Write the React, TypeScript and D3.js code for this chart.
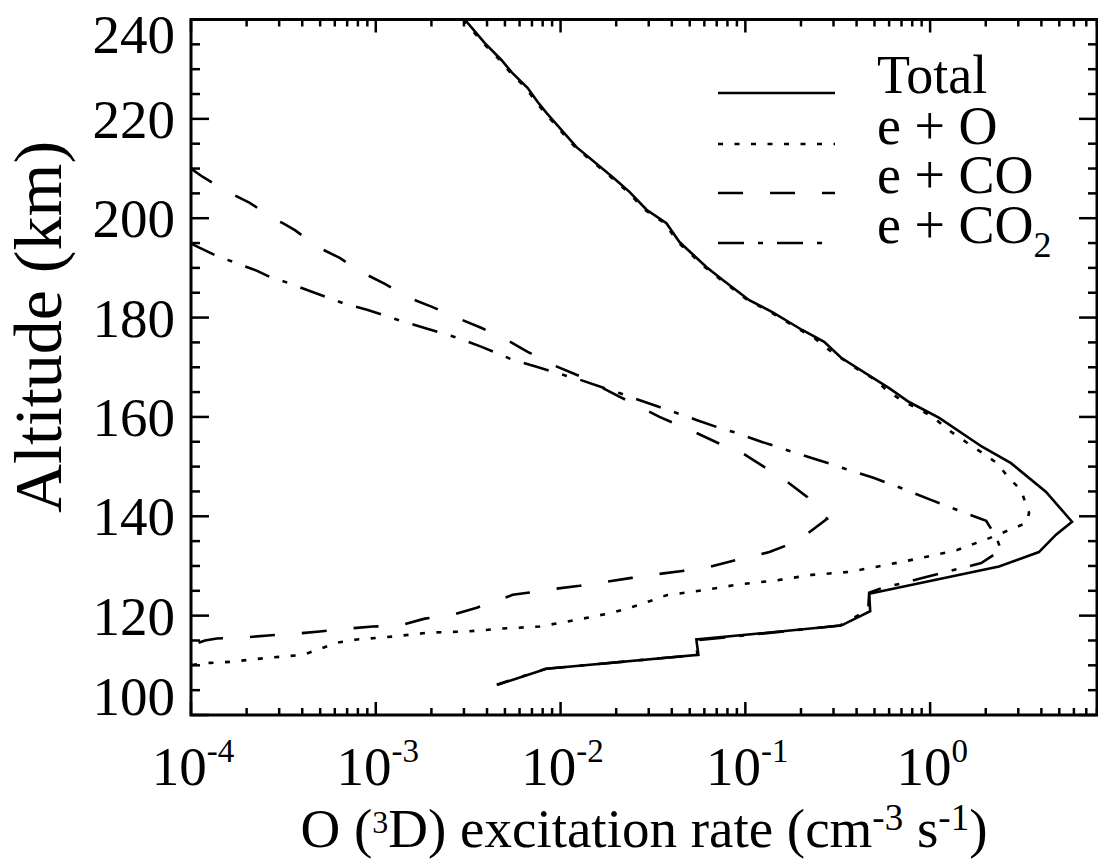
import React from 'react';
import * as d3 from 'd3';

// ---- Data (altitude km, excitation rate cm^-3 s^-1) ----
const totalAlt = [240, 235.3, 231.8, 229.4, 226.2, 223.4, 221.2, 214.3, 208.3, 205.3, 201.7, 199.0, 195.2, 190.2, 187.6, 183.5, 181.1, 177.5, 175.1, 171.9, 165.8, 163.0, 159.8, 154.0, 150.7, 144.9, 138.9, 136.3, 132.8, 129.9, 124.4, 120.9, 118.0, 115.2, 112.1, 109.3, 106.1];
const totalVal = [0.00303, 0.00388, 0.0048, 0.00543, 0.00664, 0.00752, 0.00839, 0.0122, 0.0191, 0.0236, 0.0292, 0.0374, 0.044, 0.0615, 0.0752, 0.105, 0.14, 0.203, 0.267, 0.33, 0.6, 0.769, 1.12, 1.91, 2.74, 4.24, 5.86, 4.8, 3.88, 2.36, 0.468, 0.474, 0.33, 0.0543, 0.0557, 0.00839, 0.00456];

const eOAlt = [240, 235.3, 231.8, 229.4, 226.2, 223.4, 221.2, 214.3, 208.3, 205.3, 201.7, 199.0, 195.2, 190.2, 187.6, 183.5, 181.1, 177.5, 175.9, 173.5, 169.4, 167.4, 165.4, 163.0, 161.4, 159.4, 157.0, 154.9, 152.9, 150.7, 147.7, 145.3, 140.7, 138.7, 135.8, 133.2, 131.6, 130.2, 128.8, 128.2, 127.1, 126.3, 125.1, 124.1, 122.9, 121.7, 120.6, 119.2, 117.8, 117.4, 116.8, 116.6, 115.8, 115.2, 114.6, 113.3, 112.1, 111.5, 110.7, 110.5, 110.1, 110.0];
const eOVal = [0.00297, 0.0038, 0.0047, 0.00532, 0.0065, 0.00737, 0.00822, 0.012, 0.0187, 0.0231, 0.0286, 0.0366, 0.0431, 0.0603, 0.0737, 0.103, 0.137, 0.198, 0.236, 0.284, 0.413, 0.51, 0.58, 0.723, 0.893, 1.08, 1.3, 1.57, 1.89, 2.3, 2.67, 3.1, 3.43, 3.34, 2.16, 1.4, 0.893, 0.578, 0.365, 0.228, 0.147, 0.0929, 0.0586, 0.0374, 0.0303, 0.0242, 0.0191, 0.0124, 0.00769, 0.00485, 0.0031, 0.00196, 0.00124, 0.000789, 0.000624, 0.000498, 0.000403, 0.000258, 0.000163, 0.000127, 0.000103, 0.0001];

const eCOAlt = [210.0, 208.3, 205.3, 203.1, 200.0, 199.0, 197.6, 194.2, 192.0, 189.0, 186.8, 183.9, 182.1, 179.9, 177.9, 175.5, 173.1, 170.5, 168.2, 164.1, 160.0, 156.8, 154.8, 152.7, 149.9, 146.9, 143.9, 139.5, 136.8, 134.0, 132.8, 131.2, 129.8, 129.0, 128.4, 127.6, 126.8, 126.0, 125.4, 124.6, 124.2, 123.4, 121.6, 120.2, 119.4, 118.0, 117.8, 117.4, 116.8, 116.4, 116.0, 115.6, 115.4, 115.0, 114.2, 113.9];
const eCOVal = [0.0001, 0.000116, 0.000158, 0.000208, 0.000277, 0.000314, 0.000365, 0.000485, 0.000638, 0.000851, 0.00112, 0.00153, 0.00203, 0.00277, 0.00374, 0.00511, 0.00664, 0.00906, 0.0127, 0.0208, 0.0343, 0.0543, 0.0706, 0.0964, 0.127, 0.169, 0.216, 0.277, 0.222, 0.163, 0.135, 0.0893, 0.0638, 0.0456, 0.0343, 0.0242, 0.0177, 0.0127, 0.00929, 0.00664, 0.00551, 0.00485, 0.00352, 0.00261, 0.00184, 0.00135, 0.000964, 0.000706, 0.000498, 0.000374, 0.000261, 0.000191, 0.000138, 0.000119, 0.000103, 0.0001];

const eCO2Alt = [194.9, 192.4, 191.2, 189.4, 188.2, 187.0, 185.2, 182.9, 181.5, 179.3, 177.9, 175.9, 174.1, 171.5, 170.1, 169.1, 167.5, 164.8, 162.0, 159.4, 158.0, 156.8, 155.0, 153.0, 151.4, 149.3, 147.7, 145.3, 143.3, 140.9, 139.1, 135.8, 133.2, 130.6, 129.6, 128.6, 127.6, 126.7, 125.6, 124.6, 121.2, 118.0, 115.0, 112.1, 109.3, 106.1];
const eCO2Val = [0.0001, 0.000138, 0.000169, 0.000228, 0.000267, 0.000334, 0.000451, 0.000664, 0.000906, 0.00138, 0.00184, 0.00277, 0.00374, 0.00551, 0.00741, 0.00906, 0.0127, 0.0208, 0.0343, 0.0543, 0.0697, 0.0893, 0.122, 0.179, 0.245, 0.365, 0.498, 0.741, 1.01, 1.49, 2.01, 2.28, 2.42, 1.89, 1.49, 1.16, 0.906, 0.741, 0.551, 0.468, 0.462, 0.324, 0.0537, 0.0551, 0.0083, 0.00451];

const xMajorTicks = [1e-4, 1e-3, 1e-2, 1e-1, 1e0];
const xTickExponents = ['-4', '-3', '-2', '-1', '0'];
const yMajorTicks = [100, 120, 140, 160, 180, 200, 220, 240];

const legendLabels = ['Total', 'e + O', 'e + CO', 'e + CO'];
const legendDashes = ['none', '5 11.5', '25 27', '26 14 5 14'];

const FONT = '"Liberation Serif", "Times New Roman", Times, serif';

export default function App() {
  const W = 1098, H = 862;
  const L = 191, R = 1097, T = 19.5, B = 715;
  const x = d3.scaleLog().domain([1e-4, 8]).range([L, R]);
  const y = d3.scaleLinear().domain([100, 240]).range([B, T]);

  const line = d3.line<[number, number]>().x(d => x(d[1])).y(d => y(d[0]));
  const mk = (a: number[], v: number[]) => a.map((al, i) => [al, v[i]] as [number, number]);

  const series = [
    { pts: mk(totalAlt, totalVal), dash: legendDashes[0] },
    { pts: mk(eOAlt, eOVal), dash: legendDashes[1] },
    { pts: mk(eCOAlt, eCOVal), dash: legendDashes[2] },
    { pts: mk(eCO2Alt, eCO2Val), dash: legendDashes[3] },
  ];

  const xMinor: number[] = [];
  for (let e = -4; e <= 0; e++) {
    for (let m = 2; m <= 9; m++) {
      const v = m * Math.pow(10, e);
      if (v <= 8) xMinor.push(v);
    }
  }
  const yMinor: number[] = [];
  for (let v = 100; v <= 240; v += 5) if (v % 20 !== 0) yMinor.push(v);

  const legendY = [93, 144, 193, 243];

  return (
    <svg width={W} height={H} style={{ position: 'absolute', left: 0, top: 0, background: '#fff' }}
      fontFamily={FONT}>
      <rect x={0} y={0} width={W} height={H} fill="#fff" />
      <defs>
        <clipPath id="plotclip">
          <rect x={L} y={T} width={R - L} height={B - T} />
        </clipPath>
      </defs>

      <g clipPath="url(#plotclip)" fill="none" stroke="#000" strokeWidth={2.6} strokeLinejoin="miter">
        {series.map((s, i) => (
          <path key={i} d={line(s.pts) || ''} strokeDasharray={s.dash === 'none' ? undefined : s.dash} />
        ))}
      </g>

      <rect x={L} y={T} width={R - L} height={B - T} fill="none" stroke="#000" strokeWidth={3} />

      <g stroke="#000" strokeWidth={2.5}>
        {xMajorTicks.map((v, i) => (
          <g key={'xm' + i}>
            <line x1={x(v)} x2={x(v)} y1={B} y2={B - 13} />
            <line x1={x(v)} x2={x(v)} y1={T} y2={T + 13} />
          </g>
        ))}
        {xMinor.map((v, i) => (
          <g key={'xn' + i}>
            <line x1={x(v)} x2={x(v)} y1={B} y2={B - 7} />
            <line x1={x(v)} x2={x(v)} y1={T} y2={T + 7} />
          </g>
        ))}
        {yMajorTicks.map((v, i) => (
          <g key={'ym' + i}>
            <line x1={L} x2={L + 18} y1={y(v)} y2={y(v)} />
            <line x1={R} x2={R - 18} y1={y(v)} y2={y(v)} />
          </g>
        ))}
        {yMinor.map((v, i) => (
          <g key={'yn' + i}>
            <line x1={L} x2={L + 9} y1={y(v)} y2={y(v)} />
            <line x1={R} x2={R - 9} y1={y(v)} y2={y(v)} />
          </g>
        ))}
      </g>

      <g fontSize={55} fill="#000" textAnchor="end">
        {yMajorTicks.map((v, i) => {
          const by = v === 240 ? y(v) + 33 : v === 100 ? y(v) : y(v) + 19;
          return <text key={'yl' + i} x={175} y={by}>{v}</text>;
        })}
      </g>

      <g fill="#000" textAnchor="middle">
        {xMajorTicks.map((v, i) => (
          <text key={'xl' + i} x={x(v) + 2} y={785} fontSize={55}>
            10<tspan fontSize={33} dy={-23}>{xTickExponents[i]}</tspan>
          </text>
        ))}
      </g>

      <text x={644} y={847} fontSize={55} textAnchor="middle" fill="#000">
        O (<tspan fontSize={32} dy={-14}>3</tspan><tspan dy={14}>D) excitation rate (cm</tspan>
        <tspan fontSize={37} dy={-17}>-3</tspan><tspan dy={17}> s</tspan>
        <tspan fontSize={37} dy={-17}>-1</tspan><tspan dy={17}>)</tspan>
      </text>

      <text transform={`translate(61,327) rotate(-90)`} fontSize={68} textAnchor="middle" fill="#000">
        Altitude (km)
      </text>

      <g>
        {legendLabels.map((lab, i) => (
          <g key={'lg' + i}>
            <line x1={718} x2={835} y1={legendY[i]} y2={legendY[i]} stroke="#000" strokeWidth={2.6}
              strokeDasharray={legendDashes[i] === 'none' ? undefined : legendDashes[i]} />
            <text x={877} y={legendY[i]} fontSize={54} fill="#000">
              {lab}{i === 3 ? <tspan fontSize={36} dy={14}>2</tspan> : null}
            </text>
          </g>
        ))}
      </g>
    </svg>
  );
}
